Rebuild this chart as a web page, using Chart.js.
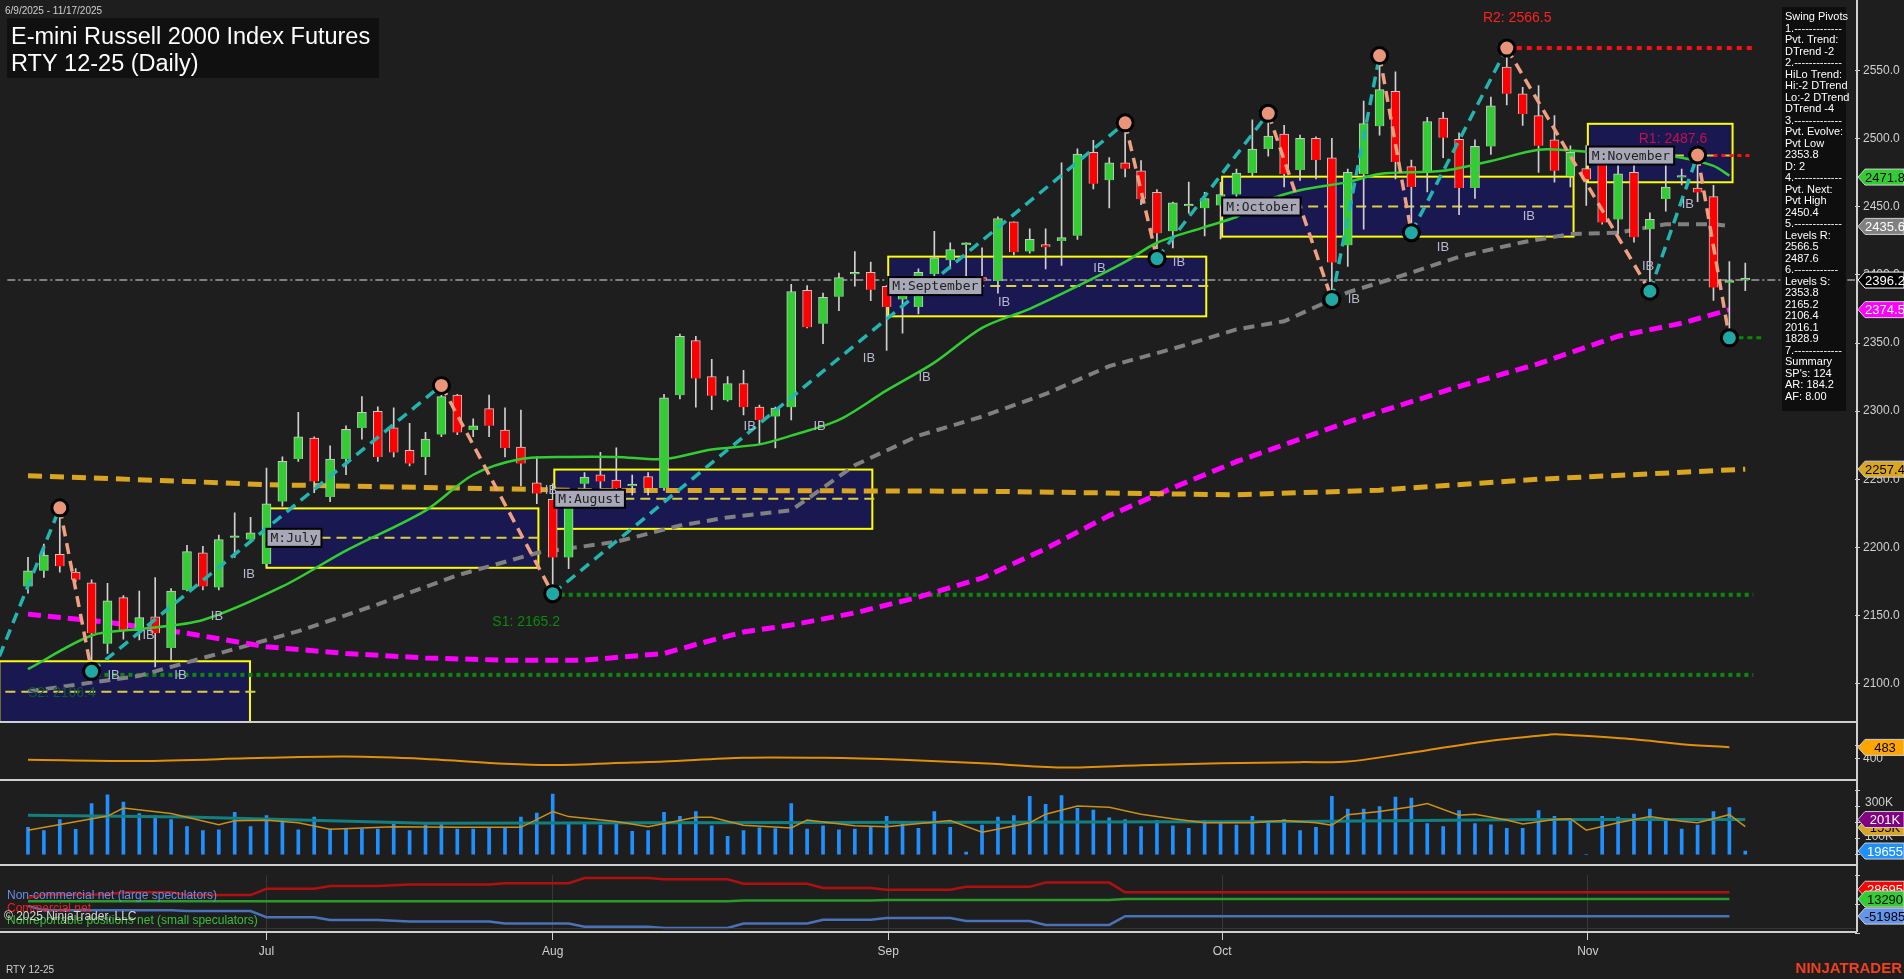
<!DOCTYPE html>
<html>
<head>
<meta charset="utf-8">
<script src="https://cdn.jsdelivr.net/npm/chart.js@4"></script>
<style>
  body { margin: 0; background: #1e1e1e; overflow: hidden; }
  canvas { position: absolute; left: 0; }
  .sep { position: absolute; left: 0; width: 1857px; height: 2px; background: #cfcfcf; }
  .vax { position: absolute; left: 1856px; top: 0; width: 2px; height: 932px; background: #cfcfcf; }
</style>
</head>
<body>
<canvas id="main" width="1904" height="722" style="top:0"></canvas>
<canvas id="osc" width="1904" height="58" style="top:722px"></canvas>
<canvas id="vol" width="1904" height="85" style="top:780px"></canvas>
<canvas id="cot" width="1904" height="114" style="top:865px"></canvas>
<div class="sep" style="top:721px"></div>
<div class="sep" style="top:779px"></div>
<div class="sep" style="top:864px"></div>
<div class="sep" style="top:931px"></div>
<div class="vax"></div>
<script>
// --- price bars (daily, 6/9/2025 .. 11/17/2025) ---
const barOpen = [2171.3,2182.8,2194.9,2181.8,2173.9,2129.3,2163.1,2138.5,2149.0,2126.1,2168.7,2195.9,2170.6,2207.0,2205.7,2187.7,2233.6,2264.8,2280.2,2236.9,
  2264.8,2287.7,2299.8,2287.7,2271.3,2266.4,2282.8,2311.7,2286.1,2301.8,2286.1,2273.6,2247.4,2235.2,2192.6,2246.7,2253.3,2249.3,2245.0,2252.0,
  2243.5,2311.7,2351.7,2325.4,2308.0,2320.3,2302.9,2296.0,2302.9,2388.6,2364.1,2384.0,2400.5,2401.9,2391.7,2382.0,2376.4,2400.6,2410.8,2422.0,
  2398.0,2395.5,2438.9,2417.2,2422.3,2424.8,2428.7,2489.9,2469.5,2482.3,2476.4,2460.6,2432.0,2450.5,2449.0,2451.0,2459.1,2474.8,2492.4,2503.3,
  2477.0,2500.3,2486.0,2421.7,2474.1,2509.1,2534.8,2479.5,2475.3,2515.2,2499.5,2463.8,2494.3,2552.6,2532.9,2516.9,2499.1,2472.4,2478.0,2486.0,
  2440.7,2475.3,2433.6,2455.7,2471.5,2463.8,2457.4,2394.3,2396.2];
const barHigh = [2192.6,2202.5,2230.3,2184.4,2176.2,2173.6,2164.7,2168.0,2177.9,2169.7,2201.5,2200.8,2209.0,2225.4,2222.1,2258.2,2266.4,2299.2,2281.2,2274.6,
  2289.3,2310.7,2303.1,2302.5,2291.0,2284.4,2318.9,2312.3,2294.3,2311.7,2302.5,2300.8,2266.4,2246.7,2240.2,2254.9,2269.7,2273.0,2253.0,2254.9,
  2312.3,2356.6,2355.0,2338.1,2325.4,2330.0,2304.4,2302.9,2393.0,2392.2,2386.6,2401.4,2417.2,2409.5,2392.2,2389.0,2404.4,2432.0,2423.6,2423.6,
  2419.8,2442.7,2438.9,2433.8,2433.8,2482.3,2492.5,2498.8,2486.1,2511.6,2484.0,2462.6,2453.4,2468.2,2460.6,2468.0,2477.6,2513.8,2518.6,2509.8,
  2502.6,2501.4,2500.3,2477.6,2527.6,2561.0,2549.0,2484.3,2515.7,2519.3,2504.3,2499.1,2530.5,2566.5,2537.6,2539.0,2516.9,2494.8,2495.0,2487.2,
  2482.4,2480.5,2445.5,2483.6,2477.6,2491.5,2465.7,2409.8,2408.6];
const barLow = [2166.4,2177.9,2181.8,2174.6,2112.3,2122.1,2132.6,2132.0,2112.3,2117.2,2168.0,2168.7,2168.7,2192.6,2204.0,2186.1,2230.3,2263.1,2240.2,2233.6,
  2253.3,2279.5,2263.1,2266.4,2259.8,2253.3,2281.2,2282.8,2281.2,2281.2,2266.4,2245.1,2232.0,2166.0,2184.4,2233.6,2243.5,2238.5,2238.5,2238.5,
  2241.8,2309.0,2303.0,2301.1,2307.4,2297.3,2275.6,2273.0,2293.5,2361.1,2349.6,2373.8,2391.7,2381.0,2344.5,2357.3,2371.3,2390.4,2404.4,2394.0,
  2389.0,2386.6,2414.7,2415.9,2404.4,2407.0,2426.1,2463.1,2449.1,2472.0,2451.6,2412.0,2419.8,2445.3,2428.7,2426.4,2441.9,2472.9,2487.2,2464.5,
  2469.3,2470.5,2382.0,2406.2,2433.6,2502.6,2470.5,2431.0,2461.0,2486.0,2444.3,2456.2,2488.4,2524.8,2509.8,2475.3,2468.1,2464.5,2451.0,2437.2,
  2430.0,2424.0,2388.0,2446.7,2466.0,2453.8,2381.2,2353.8,2388.4];
const barClose = [2182.8,2194.3,2186.1,2176.2,2136.9,2160.8,2138.5,2148.4,2136.9,2168.0,2196.9,2171.3,2205.7,2207.6,2210.6,2232.0,2263.1,2281.2,2248.4,2264.8,
  2286.7,2299.2,2266.4,2269.7,2261.5,2279.5,2310.7,2284.4,2289.3,2289.3,2273.0,2261.5,2239.5,2192.6,2233.6,2251.6,2248.4,2243.5,2245.6,2243.5,
  2309.7,2355.0,2324.0,2311.3,2320.3,2302.9,2293.5,2302.3,2387.8,2361.6,2383.5,2398.0,2400.9,2389.1,2376.4,2386.0,2401.9,2412.6,2418.5,2422.6,
  2396.0,2441.4,2416.7,2426.1,2420.3,2427.4,2488.6,2466.9,2482.3,2477.9,2455.5,2430.5,2452.9,2451.1,2456.0,2459.0,2474.8,2492.4,2501.9,2474.1,
  2500.3,2484.3,2409.1,2475.3,2511.0,2536.0,2482.9,2464.5,2512.6,2500.7,2463.8,2494.3,2524.1,2532.9,2518.1,2494.8,2476.4,2490.0,2470.0,2438.4,
  2474.1,2427.6,2440.7,2464.5,2472.2,2460.5,2390.7,2395.5,2396.4];

// volume in thousands
const volume = [156,137,201,145,293,343,302,236,224,201,160,137,142,243,160,224,195,142,215,146,
  151,146,146,174,137,169,183,146,146,156,156,215,238,348,174,174,169,178,133,137,
  243,220,247,165,105,137,153,149,293,146,165,142,146,156,220,178,151,247,156,14,
  169,215,224,334,288,339,265,256,211,201,160,197,165,151,197,178,169,220,197,201,
  137,156,334,261,261,275,330,325,178,160,252,178,171,151,151,252,220,201,0,220,
  215,233,261,197,146,169,247,270,20];

// moving averages: [bar, value]
const maGreen = [[0,2110.6],[4,2135.3],[7,2140],[11,2146.7],[16,2171.3],[20,2197.6],[25,2227],[28,2253.3],[31,2264.8],[34,2266.4],[37,2266.4],[40,2264.8],
  [43,2271.8],[46,2275.6],[48,2282],[51,2293.5],[54,2315.2],[57,2335.6],[60,2361.1],[63,2375.1],[66,2391.7],[69,2409.5],[71,2423.6],[74,2435.1],[76,2442.7],
  [78,2455],[80,2462.2],[83,2468.1],[85,2474.1],[89,2476.4],[92,2483.6],[95,2491.9],[97,2491.4],[99,2489.5],[102,2488.3],[104,2486],[106,2480],[107,2472.9]];
const maGrey = [[0,2094.3],[7,2105.7],[12,2122.1],[17,2138.5],[22,2158.2],[27,2179.5],[32,2195.9],[37,2204.1],[41,2216],[44,2222],[48,2227.2],[52,2260.3],[56,2282],
  [60,2296],[64,2312.6],[68,2333],[72,2345.8],[76,2360],[79,2366],[83,2387.2],[86,2397.9],[90,2413.3],[94,2424],[97,2430],[100,2431],[103,2437.2],[106,2437.2],[107,2436]];
const maMagenta = [[0,2151],[5,2145],[10,2136.9],[15,2127],[20,2122.1],[25,2118.8],[30,2117.2],[35,2117.2],[40,2122.1],[42,2128.7],[45,2137.9],[48,2143],
  [52,2151.9],[56,2163.4],[60,2177.4],[64,2199],[68,2223.3],[72,2243.7],[76,2262.9],[83,2292],[90,2318.1],[95,2334.8],[100,2355],[104,2364.5],[107,2374.5]];
const maOrange = [[0,2252.6],[10,2248.4],[15,2246],[25,2244],[35,2241.8],[45,2241.7],[60,2241.2],[76,2238.6],[85,2242],[95,2250],[108,2257.4]];

// swing pivot zigzag [bar, price]
const pivots = [[-1.8,2120],[2,2229],[4,2109],[26,2318.9],[33,2166],[69,2511.6],[71,2412],[78,2518.6],[82,2382],[85,2561],[87,2431],[93,2566.5],[102,2388],[105,2488],[107,2353.8]];

// monthly IB boxes
const boxName  = ['', 'M:July', 'M:August', 'M:September', 'M:October', 'M:November'];
const boxStart = [-1.8, 15.0, 33.1, 54.1, 75.1, 98.1];
const boxEnd   = [13.96, 32.1, 53.1, 74.1, 97.2, 107.2];
const boxHigh  = [2116.4, 2228.6, 2257.1, 2413.4, 2472.1, 2510.9];
const boxLow   = [2060, 2185.0, 2213.6, 2369.6, 2428.1, 2468.0];
const boxMid   = [2094, 2207.0, 2235.7, 2391.8, 2450.2, 2487.6];

const lastPrice = 2396.2;
const levelR2 = 2566.5, levelR1 = 2487.6, levelS1 = 2165.2, levelS2 = 2106.4;

const monthPos = [15.0, 33.0, 54.1, 75.1, 98.1];
const monthLabel = ['Jul', 'Aug', 'Sep', 'Oct', 'Nov'];

const infoLines = ['Swing Pivots','1.-------------','Pvt. Trend:','DTrend -2','2.-------------','HiLo Trend:','Hi:-2 DTrend','Lo:-2 DTrend','DTrend -4',
  '3.-------------','Pvt. Evolve:','Pvt Low','2353.8','D: 2','4.-------------','Pvt. Next:','Pvt High','2450.4','5.-------------','Levels R:','2566.5','2487.6',
  '6.------------','Levels S:','2353.8','2165.2','2106.4','2016.1','1828.9','7.-------------','Summary',"SP's: 124",'AR: 184.2','AF: 8.00'];

// lower panels
const oscLine = [[0,394],[7,385],[15,408],[20,417],[25,400],[30,366],[33,356],[38,374],[40,381],[45,409],[50,408],[55,394],[60,369],[65,339],[70,355],
  [75,369],[80,377],[83,381],[88,463],[92,530],[95,566],[96,578],[97,572],[101,541],[104,506],[107,484]];
const volAvg = [[0,140],[5,221],[6,267],[9,236],[12,171],[13,194],[15,197],[17,183],[19,145],[23,160],[27,156],[31,156],[33,247],[34,218],[37,190],[39,160],
  [42,214],[43,214],[45,168],[48,153],[49,198],[52,165],[54,160],[58,195],[60,128],[63,183],[64,232],[66,279],[68,272],[70,232],[72,206],[74,183],
  [77,183],[79,195],[81,183],[82,168],[83,229],[85,247],[87,275],[88,293],[90,226],[91,232],[93,198],[94,176],[96,201],[97,206],[98,140],[100,183],
  [102,218],[104,191],[105,183],[107,229],[108,160]];
const volLong = [[0,226],[10,215],[25,180],[40,182],[60,185],[80,190],[95,201],[108,201]];
const volTicks = [100000, 300000];

// COT net positions (thousands): [fromBar, toBar, value]
const cotCommercial = [[0,0,17.5],[1,5,30.7],[6,9,39.4],[10,14,28.6],[15,18,52.5],[19,22,63.3],[24,29,68.8],[30,34,74.2],[35,39,93.8],[40,44,89.4],
  [45,49,72],[50,53,55.7],[54,58,49.2],[59,63,60],[64,68,76.3],[69,107,39.4]];
const cotSmall = [[0,44,4.5],[45,53,7.8],[54,68,9.8],[69,107,13.3]];
const cotLarge = [[0,0,-12.8],[1,9,-29.1],[10,14,-32.4],[15,18,-56.3],[19,22,-67.2],[24,29,-72.6],[30,34,-80.3],[35,39,-92.2],[40,44,-97.7],
  [45,49,-80.3],[50,53,-66],[54,58,-59.4],[59,63,-70.4],[64,68,-85.6],[69,107,-52.0]];

const X_MIN = -1.76, X_MAX = 114.9;
const UI_FONT = '"Liberation Sans", Arial, sans-serif';

Chart.defaults.color = '#d0d0d0';
Chart.defaults.font.family = UI_FONT;
Chart.defaults.font.size = 12;
Chart.defaults.animation = false;

const pts = arr => arr.map(([x, y]) => ({x, y}));
const segPts = arr => {
  const out = [];
  arr.forEach(([a, b, v]) => { out.push({x: a, y: v * 1000}); out.push({x: b, y: v * 1000}); });
  return out;
};

function drawTag(ctx, y, text, bg, fg, border) {
  const x = 1858, w = 46, h = 16;
  ctx.save();
  ctx.beginPath();
  ctx.moveTo(x, y);
  ctx.lineTo(x + 7, y - h / 2);
  ctx.lineTo(x + w, y - h / 2);
  ctx.lineTo(x + w, y + h / 2);
  ctx.lineTo(x + 7, y + h / 2);
  ctx.closePath();
  ctx.fillStyle = bg;
  ctx.fill();
  ctx.strokeStyle = border || '#d0d0d0';
  ctx.lineWidth = 1;
  ctx.stroke();
  ctx.fillStyle = fg;
  ctx.font = '13px ' + UI_FONT;
  ctx.textAlign = 'center';
  ctx.textBaseline = 'middle';
  ctx.fillText(text, x + 27, y + 1);
  ctx.restore();
}

function xScaleOpts(show) {
  return {
    type: 'linear', min: X_MIN, max: X_MAX, offset: false, display: show,
    grid: { display: false }, ticks: { display: false }
  };
}

function rightAxis(min, max, step, fmt, showOnly) {
  return {
    type: 'linear', position: 'right', min, max,
    afterFit: s => { s.width = 49; },
    border: { display: false },
    grid: { drawOnChartArea: false, color: '#d0d0d0', tickLength: 5, tickWidth: 1 },
    ticks: {
      stepSize: step, includeBounds: false, padding: 3, color: '#d0d0d0', autoSkip: false,
      callback: v => (showOnly && !showOnly.includes(v)) ? '' : fmt(v)
    }
  };
}

// ---------- main price panel ----------
const bullish = barClose.map((c, i) => c >= barOpen[i]);

const mainOverlay = {
  id: 'mainOverlay',
  beforeDatasetsDraw(chart) {
    const {ctx, scales: {x, y}} = chart;
    ctx.save();
    boxStart.forEach((s, i) => {
      const x0 = x.getPixelForValue(s), x1 = x.getPixelForValue(boxEnd[i]);
      const y0 = y.getPixelForValue(boxHigh[i]), y1 = y.getPixelForValue(boxLow[i]);
      ctx.fillStyle = '#191850';
      ctx.fillRect(x0, y0, x1 - x0, y1 - y0);
      ctx.strokeStyle = '#ffff00';
      ctx.lineWidth = 2;
      ctx.strokeRect(x0, y0, x1 - x0, y1 - y0);
      ctx.setLineDash([10, 6]);
      ctx.strokeStyle = '#d8d040';
      ctx.beginPath();
      const ym = y.getPixelForValue(boxMid[i]);
      ctx.moveTo(x0 + 6, ym); ctx.lineTo(x1 + 6, ym); ctx.stroke();
      ctx.setLineDash([]);
    });
    // horizontal levels
    const hline = (v, a, b, color, dash, w) => {
      ctx.strokeStyle = color; ctx.lineWidth = w; ctx.setLineDash(dash);
      ctx.beginPath();
      ctx.moveTo(x.getPixelForValue(a), y.getPixelForValue(v));
      ctx.lineTo(x.getPixelForValue(b), y.getPixelForValue(v));
      ctx.stroke();
    };
    hline(lastPrice, -1.3, X_MAX, '#a0a0a0', [8, 3, 2, 3], 1.5);
    hline(levelS1, 33, 108.5, '#0a8a0a', [4, 4], 4);
    hline(levelS2, 3.8, 108.5, '#0a8a0a', [4, 4], 4);
    hline(levelR2, 93, 108.5, '#ff1010', [5, 5], 4);
    hline(levelR1, 106, 108.5, '#ff1010', [4, 4], 3);
    hline(2353.8, 107, 109, '#0a8a0a', [5, 4], 3);
    ctx.restore();
  },
  afterDatasetsDraw(chart) {
    const {ctx, scales: {x, y}} = chart;
    ctx.save();
    // zigzag
    ctx.lineWidth = 3.5;
    ctx.setLineDash([11, 7]);
    for (let i = 1; i < pivots.length; i++) {
      const [a, pa] = pivots[i - 1], [b, pb] = pivots[i];
      ctx.strokeStyle = pb > pa ? '#22b5b0' : '#f0a080';
      ctx.beginPath();
      ctx.moveTo(x.getPixelForValue(a), y.getPixelForValue(pa));
      ctx.lineTo(x.getPixelForValue(b), y.getPixelForValue(pb));
      ctx.stroke();
    }
    ctx.setLineDash([]);
    for (let i = 1; i < pivots.length; i++) {
      const [b, pb] = pivots[i];
      const high = pb > pivots[i - 1][1];
      ctx.beginPath();
      ctx.arc(x.getPixelForValue(b), y.getPixelForValue(pb), 8, 0, Math.PI * 2);
      ctx.fillStyle = high ? '#e8957a' : '#1fa8a4';
      ctx.fill();
      ctx.lineWidth = 3; ctx.strokeStyle = '#000';
      ctx.stroke();
    }
    // box labels
    ctx.font = '13px "DejaVu Sans Mono", monospace';
    ctx.textBaseline = 'middle';
    boxName.forEach((n, i) => {
      if (!n) return;
      const x0 = x.getPixelForValue(boxStart[i]), ym = y.getPixelForValue(boxMid[i]);
      const w = ctx.measureText(n).width + 8;
      ctx.fillStyle = '#a8a8b8';
      ctx.fillRect(x0, ym - 9, w, 18);
      ctx.strokeStyle = '#000'; ctx.lineWidth = 2;
      ctx.strokeRect(x0, ym - 9, w, 18);
      ctx.fillStyle = '#222';
      ctx.fillText(n, x0 + 4, ym + 1);
    });
    // level labels
    ctx.font = '14px ' + UI_FONT;
    ctx.fillStyle = '#ff2020';
    ctx.fillText('R2: 2566.5', x.getPixelForValue(91.5), 18);
    ctx.fillStyle = '#c8104a';
    ctx.fillText('R1: 2487.6', x.getPixelForValue(101.3), y.getPixelForValue(2500));
    ctx.fillStyle = '#0b8a0b';
    ctx.fillText('S1: 2165.2', x.getPixelForValue(29.2), y.getPixelForValue(2145));
    ctx.fillStyle = '#0f5a30';
    ctx.fillText('S2: 2106.4', x.getPixelForValue(0), y.getPixelForValue(2093));
    // IB labels
    ctx.font = '13px ' + UI_FONT;
    ctx.fillStyle = '#b8b8d0';
    [[5,2106],[7.2,2135],[9.2,2106],[11.5,2149],[13.5,2180],[32.5,2242],[45,2289],[49.4,2289],[52.5,2339],[56,2325],[61,2380],[67,2405],[72,2409],
     [83,2382],[88.6,2420],[94,2443],[101.5,2406],[104,2452]].forEach(([b, p]) => ctx.fillText('IB', x.getPixelForValue(b), y.getPixelForValue(p)));
    // axis tags
    drawTag(ctx, y.getPixelForValue(2471.8), '2471.8', '#32cd32', '#000');
    drawTag(ctx, y.getPixelForValue(2435.6), '2435.6', '#808080', '#fff');
    drawTag(ctx, y.getPixelForValue(2396.2), '2396.2', '#000', '#fff', '#fff');
    drawTag(ctx, y.getPixelForValue(2374.5), '2374.5', '#ff00ff', '#fff');
    drawTag(ctx, y.getPixelForValue(2257.4), '2257.4', '#daa520', '#000');
    // title
    ctx.fillStyle = '#101010';
    ctx.fillRect(7, 18, 372, 60);
    ctx.fillStyle = '#fff';
    ctx.font = '23.5px ' + UI_FONT;
    ctx.textBaseline = 'alphabetic';
    ctx.fillText('E-mini Russell 2000 Index Futures', 11, 44);
    ctx.fillText('RTY 12-25 (Daily)', 11, 71);
    ctx.font = '10px ' + UI_FONT;
    ctx.fillStyle = '#d0d0d0';
    ctx.fillText('6/9/2025 - 11/17/2025', 5, 14);
    // info box
    ctx.fillStyle = '#0e0e0e';
    ctx.fillRect(1782, 7, 64, 404);
    ctx.fillStyle = '#fff';
    ctx.font = '11px ' + UI_FONT;
    infoLines.forEach((t, i) => ctx.fillText(t, 1785, 20 + i * 11.5));
    ctx.restore();
  }
};

const mainDatasets = [
  { type: 'line', data: pts(maOrange), borderColor: '#daa520', borderWidth: 5, borderDash: [14, 8], pointRadius: 0, order: 5 },
  { type: 'line', data: pts(maMagenta), borderColor: '#ff00ff', borderWidth: 5, borderDash: [13, 7], pointRadius: 0, order: 5 },
  { type: 'line', data: pts(maGrey), borderColor: '#808080', borderWidth: 4, borderDash: [11, 7], pointRadius: 0, order: 5 },
  { type: 'line', data: pts(maGreen), borderColor: '#32cd32', borderWidth: 2.5, pointRadius: 0, tension: 0.3, order: 1 },
  { type: 'bar', data: barHigh.map((h, i) => ({x: i, y: [barLow[i], h]})), backgroundColor: '#d0d0d0',
    barThickness: 1, grouped: false, order: 3 },
  { type: 'bar', data: barOpen.map((o, i) => ({x: i, y: [Math.min(o, barClose[i]), Math.max(o, barClose[i])]})),
    backgroundColor: bullish.map(b => b ? '#32cd32' : '#ff0000'), borderColor: '#c8c8c8', borderWidth: 1,
    barThickness: 9, grouped: false, minBarLength: 2, order: 2 }
];

new Chart(document.getElementById('main'), {
  type: 'bar',
  data: { datasets: mainDatasets },
  options: {
    responsive: false, devicePixelRatio: 1,
    layout: { padding: 0 },
    plugins: { legend: { display: false }, tooltip: { enabled: false } },
    scales: {
      x: xScaleOpts(false),
      y: rightAxis(2079.3, 2594.3, 50, v => v.toFixed(1))
    }
  },
  plugins: [mainOverlay]
});

// ---------- oscillator panel ----------
new Chart(document.getElementById('osc'), {
  type: 'line',
  data: { datasets: [{ data: pts(oscLine), borderColor: '#e0900a', borderWidth: 2, pointRadius: 0, tension: 0.3 }] },
  options: {
    responsive: false, devicePixelRatio: 1, layout: { padding: 0 },
    plugins: { legend: { display: false }, tooltip: { enabled: false } },
    scales: { x: xScaleOpts(false), y: rightAxis(322, 592, 100, v => String(v), [400]) }
  },
  plugins: [{ id: 'oscTag', afterDraw(c) { drawTag(c.ctx, c.scales.y.getPixelForValue(483), '483', '#ffa500', '#000'); } }]
});

// ---------- volume panel ----------
new Chart(document.getElementById('vol'), {
  type: 'bar',
  data: { datasets: [
    { type: 'line', data: pts(volLong).map(p => ({x: p.x, y: p.y * 1000})), borderColor: '#138080', borderWidth: 3, pointRadius: 0, order: 1 },
    { type: 'line', data: pts(volAvg).map(p => ({x: p.x, y: p.y * 1000})), borderColor: '#c8901a', borderWidth: 1.5, pointRadius: 0, order: 0 },
    { type: 'bar', data: volume.map((v, i) => ({x: i, y: v * 1000})), backgroundColor: '#1e90ff', barThickness: 3, order: 2 }
  ]},
  options: {
    responsive: false, devicePixelRatio: 1, layout: { padding: 0 },
    plugins: { legend: { display: false }, tooltip: { enabled: false } },
    scales: { x: xScaleOpts(false), y: rightAxis(-2000, 370000, 100000, v => '', []) }
  },
  plugins: [{ id: 'volTags', afterDraw(c) {
    const y = c.scales.y, ctx = c.ctx;
    ctx.save();
    ctx.fillStyle = '#d0d0d0';
    ctx.font = '12px ' + UI_FONT;
    ctx.textBaseline = 'middle';
    volTicks.forEach(v => ctx.fillText((v / 1000) + 'K', 1865, y.getPixelForValue(v)));
    ctx.restore();
    drawTag(ctx, y.getPixelForValue(155000), '155K', '#daa520', '#000');
    drawTag(ctx, y.getPixelForValue(201000), '201K', '#800080', '#fff');
    drawTag(ctx, y.getPixelForValue(19655), '19655', '#1e90ff', '#fff');
  } }]
});

// ---------- COT panel with date axis ----------
new Chart(document.getElementById('cot'), {
  type: 'line',
  data: { datasets: [
    { data: segPts(cotCommercial), borderColor: '#b01010', borderWidth: 2.5, pointRadius: 0 },
    { data: segPts(cotSmall), borderColor: '#2a9a2a', borderWidth: 2.5, pointRadius: 0 },
    { data: segPts(cotLarge), borderColor: '#4a72b8', borderWidth: 2.5, pointRadius: 0 }
  ]},
  options: {
    responsive: false, devicePixelRatio: 1, layout: { padding: 0 },
    plugins: { legend: { display: false }, tooltip: { enabled: false } },
    scales: {
      x: {
        type: 'linear', min: X_MIN, max: X_MAX, position: 'bottom',
        afterFit: s => { s.height = 46; },
        afterBuildTicks: s => { s.ticks = monthPos.map(v => ({value: v})); },
        border: { display: false },
        grid: { color: '#383838', tickColor: '#d0d0d0', tickLength: 7 },
        ticks: { autoSkip: false, maxRotation: 0, padding: 4, color: '#d0d0d0',
          callback: (v, i) => monthLabel[i] }
      },
      y: rightAxis(-116600, 104700, 100000, v => (v / 1000) + 'K', [-100000])
    }
  },
  plugins: [{ id: 'cotText', afterDraw(c) {
    const ctx = c.ctx, y = c.scales.y;
    ctx.save();
    ctx.strokeStyle = '#383838'; ctx.lineWidth = 1;
    ctx.beginPath(); ctx.moveTo(0, y.getPixelForValue(-100000)); ctx.lineTo(1856, y.getPixelForValue(-100000)); ctx.stroke();
    drawTag(ctx, y.getPixelForValue(39400) - 3, '28695', '#ff0000', '#fff');
    drawTag(ctx, y.getPixelForValue(13290), '13290', '#32cd32', '#000');
    drawTag(ctx, y.getPixelForValue(-51985), '-51985', '#6495ed', '#000');
    ctx.font = '12px ' + UI_FONT;
    ctx.textBaseline = 'middle';
    ctx.fillStyle = '#6a8ee8'; ctx.fillText('Non-commercial net (large speculators)', 7, 31);
    ctx.fillStyle = '#ff1a1a'; ctx.fillText('Commercial net', 7, 44);
    ctx.fillStyle = '#3cbe3c'; ctx.fillText('Nonreportable positions net (small speculators)', 7, 56);
    ctx.fillStyle = '#d8d8d8'; ctx.fillText('\u00a9 2025 NinjaTrader, LLC', 4, 52);
    ctx.font = '10px ' + UI_FONT;
    ctx.fillStyle = '#d0d0d0'; ctx.fillText('RTY 12-25', 6, 105);
    ctx.font = 'bold 15px ' + UI_FONT;
    ctx.fillStyle = '#f04020';
    ctx.textAlign = 'right';
    ctx.fillText('NINJATRADER', 1902, 104);
    ctx.restore();
  } }]
});
</script>
</body>
</html>
